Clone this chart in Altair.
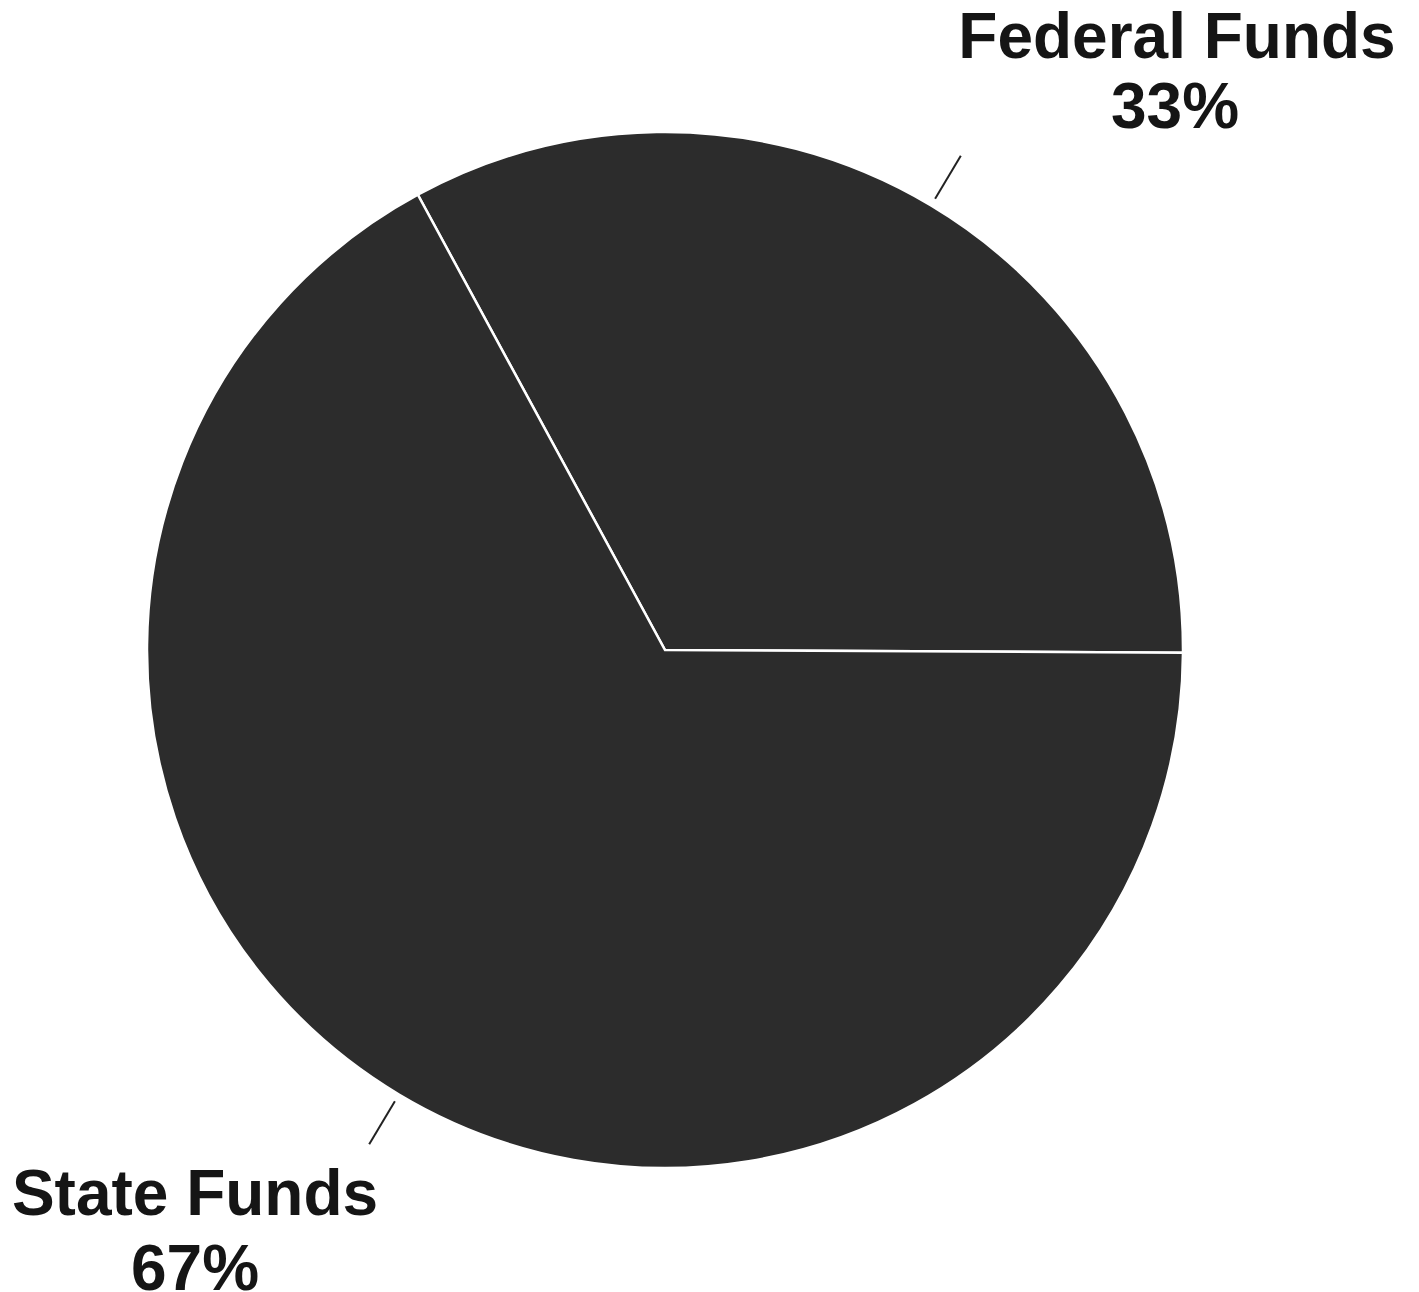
import math
import altair as alt
import pandas as pd

# Data
categories = ["Federal Funds", "State Funds"]
shares = [33, 67]
pct_labels = ["33%", "67%"]

START_DEG = -28.5          # rotation of first slice edge (clockwise from 12 o'clock)
CX, CY, R = 657, 642, 518  # pie centre / radius in chart pixels

start = math.radians(START_DEG)
df = pd.DataFrame({"category": categories, "share": shares, "order": [0, 1]})

# leader lines at slice mid-angles
tot = sum(shares)
rows = []
acc = 0
for c, s in zip(categories, shares):
    mid = start + 2 * math.pi * (acc + s / 2) / tot
    acc += s
    r1, r2 = R + 8, R + 58
    rows.append({
        "category": c,
        "x": CX + r1 * math.sin(mid), "y": CY - r1 * math.cos(mid),
        "x2": CX + r2 * math.sin(mid), "y2": CY - r2 * math.cos(mid),
    })
lead = pd.DataFrame(rows)

pie = alt.Chart(df).mark_arc(
    radius=R, stroke="white", strokeWidth=2.5, fill="#2c2c2c"
).encode(
    theta=alt.Theta("share:Q", stack=True,
                    scale=alt.Scale(range=[start, start + 2 * math.pi])),
    order=alt.Order("order:Q"),
    x=alt.value(CX), y=alt.value(CY),
)

leaders = alt.Chart(lead).mark_rule(color="#222222", strokeWidth=2).encode(
    x=alt.X("x:Q", scale=None), y=alt.Y("y:Q", scale=None),
    x2="x2:Q", y2="y2:Q",
)

font = dict(font="Liberation Sans", fontWeight="bold", fontSize=64,
            color="#151515", align="center", baseline="alphabetic")

def label(txt, x, y):
    return alt.Chart(pd.DataFrame({"t": [txt]})).mark_text(**font).encode(
        text="t:N", x=alt.value(x), y=alt.value(y))

chart = alt.layer(
    pie, leaders,
    label(categories[0], 1169, 50), label(pct_labels[0], 1167, 120),
    label(categories[1], 187, 1207), label(pct_labels[1], 187, 1282),
).properties(
    width=1403, height=1284,
    autosize=alt.AutoSizeParams(type="none"), padding=0,
).configure_view(stroke=None)

chart.save("out.html", embed_options={"renderer": "svg", "actions": False})
